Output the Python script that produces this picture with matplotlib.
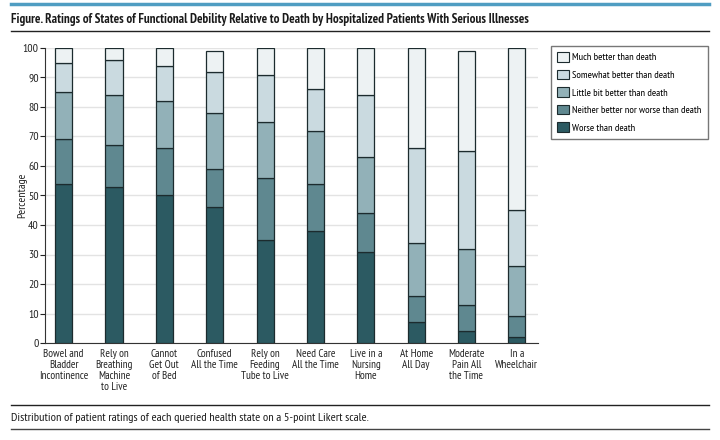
import matplotlib
matplotlib.use("Agg")
import matplotlib.pyplot as plt
from matplotlib.lines import Line2D
from matplotlib.patches import Patch
import numpy as np

plt.rcParams['font.family'] = ['PT Sans Narrow', 'DejaVu Sans']

categories = [
    "Bowel and\nBladder\nIncontinence",
    "Rely on\nBreathing\nMachine\nto Live",
    "Cannot\nGet Out\nof Bed",
    "Confused\nAll the Time",
    "Rely on\nFeeding\nTube to Live",
    "Need Care\nAll the Time",
    "Live in a\nNursing\nHome",
    "At Home\nAll Day",
    "Moderate\nPain All\nthe Time",
    "In a\nWheelchair",
]
worse = [54, 53, 50, 46, 35, 38, 31, 7, 4, 2]
neither = [15, 14, 16, 13, 21, 16, 13, 9, 9, 7]
little = [16, 17, 16, 19, 19, 18, 19, 18, 19, 17]
somewhat = [10, 12, 12, 14, 16, 14, 21, 32, 33, 19]
much = [5, 4, 6, 7, 9, 14, 16, 34, 34, 55]

series = [
    ("Worse than death", worse, "#2c5a62"),
    ("Neither better nor worse than death", neither, "#5f8890"),
    ("Little bit better than death", little, "#92b1b8"),
    ("Somewhat better than death", somewhat, "#cadae0"),
    ("Much better than death", much, "#edf2f3"),
]

fig = plt.figure(figsize=(7.2, 4.4), dpi=100)
ax = fig.add_axes([45/720, 1-343/440, (538-45)/720, (343-48)/440])

x = np.arange(len(categories))
bottom = np.zeros(len(categories))
for name, vals, col in series:
    ax.bar(x, vals, bottom=bottom, width=0.34, color=col, edgecolor="#1c2b2e",
           linewidth=0.9, label=name, zorder=3)
    bottom += np.array(vals)

ax.set_ylim(0, 100)
ax.set_xlim(-0.37, 9.42)
ax.set_yticks(np.arange(0, 101, 10))
ax.yaxis.grid(True, color="#e3e3e3", linewidth=1.0, zorder=0)
ax.set_axisbelow(True)
ax.set_xticks(x)
ax.set_xticklabels(categories, fontsize=8, color="#222222", linespacing=1.15)
ax.tick_params(axis='x', length=0, pad=4)
ax.tick_params(axis='y', labelsize=8.5, colors="#222222", length=3.5, width=0.8, direction='out', pad=1)
for s in ["top", "right"]:
    ax.spines[s].set_visible(False)
ax.spines["left"].set_color("#333333")
ax.spines["bottom"].set_color("#333333")
ax.set_ylabel("Percentage", fontsize=8.5, color="#222222", labelpad=-3)

handles = [Patch(facecolor=c, edgecolor="#1c2b2e", linewidth=0.8, label=n) for n, v, c in series[::-1]]
leg = fig.legend(handles=handles, loc="upper left", bbox_to_anchor=(551/720, 1-46/440),
                 fontsize=7.5, frameon=True, fancybox=False, edgecolor="#555555",
                 handlelength=1.15, handleheight=1.0, handletextpad=0.3,
                 labelspacing=0.7, borderpad=0.6, borderaxespad=0)
leg.get_frame().set_linewidth(1.0)

fig.add_artist(Line2D([11/720, 709/720], [1-4/440, 1-4/440], transform=fig.transFigure,
                      color="#4f9dc2", linewidth=2.5))
fig.text(11/720, 1-19/440, "Figure. Ratings of States of Functional Debility Relative to Death by Hospitalized Patients With Serious Illnesses",
         fontsize=9.35, fontweight='bold', va='center', ha='left', color="#1a1a1a")
fig.add_artist(Line2D([11/720, 709/720], [1-31/440, 1-31/440], transform=fig.transFigure,
                      color="#222222", linewidth=1.0))
fig.add_artist(Line2D([11/720, 709/720], [1-405/440, 1-405/440], transform=fig.transFigure,
                      color="#222222", linewidth=1.0))
fig.text(11/720, 1-418/440, "Distribution of patient ratings of each queried health state on a 5-point Likert scale.",
         fontsize=8.8, va='center', ha='left', color="#1a1a1a")
fig.add_artist(Line2D([11/720, 709/720], [1-429/440, 1-429/440], transform=fig.transFigure,
                      color="#444444", linewidth=1.0))

fig.savefig("out.png", dpi=100)
